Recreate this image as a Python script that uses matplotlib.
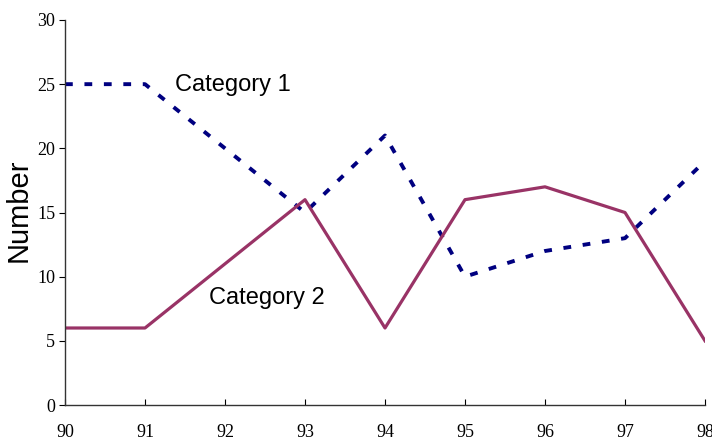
import matplotlib
matplotlib.use("Agg")
import matplotlib.pyplot as plt

years = [90, 91, 92, 93, 94, 95, 96, 97, 98]
cat1 = [25, 25, 20, 15, 21, 10, 12, 13, 19]
cat2 = [6, 6, 11, 16, 6, 16, 17, 15, 5]
yticks = [0, 5, 10, 15, 20, 25, 30]

fig = plt.figure(figsize=(7.12, 4.38), dpi=100)
ax = fig.add_axes([65/712, 1 - 405/438, 640/712, 385/438])

ax.plot(years, cat1, color="#000080", lw=2.8, dashes=(2.0, 3.0))
ax.plot(years, cat2, color="#993366", lw=2.3)

ax.text(91.38, 24.9, "Category 1", fontsize=17, family="Liberation Sans", va="center")
ax.text(91.8, 8.3, "Category 2", fontsize=17, family="Liberation Sans", va="center")

ax.set_xlim(90, 98)
ax.set_ylim(0, 30)
ax.set_xticks(years)
ax.set_yticks(yticks)
ax.set_ylabel("Number", fontsize=21, family="Liberation Sans")
ax.yaxis.set_label_coords(-0.051, 0.505)

for s in ["top", "right"]:
    ax.spines[s].set_visible(False)
for s in ["left", "bottom"]:
    ax.spines[s].set_linewidth(1)
    ax.spines[s].set_color("#333333")

ax.tick_params(axis="x", direction="in", length=4, pad=14, labelsize=13)
ax.tick_params(axis="y", direction="out", length=4, pad=3, labelsize=13)
for lab in ax.get_xticklabels() + ax.get_yticklabels():
    lab.set_family("Liberation Serif")

fig.savefig("out.png", dpi=100)
